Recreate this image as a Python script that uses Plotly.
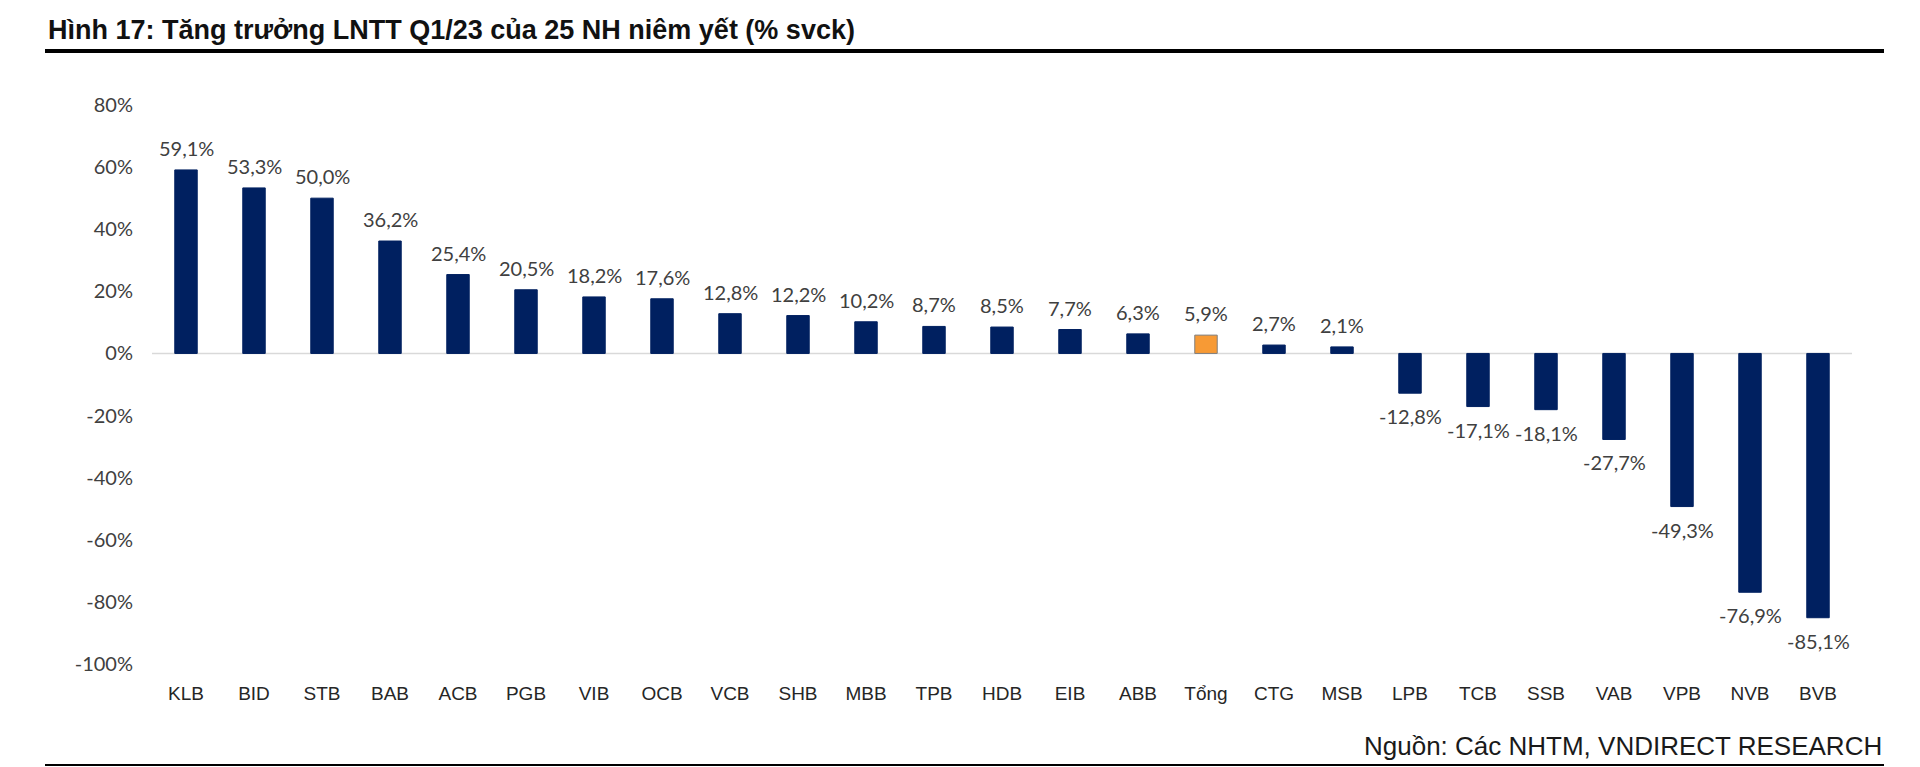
import plotly.graph_objects as go

# ---------------- data ----------------
banks = ["KLB", "BID", "STB", "BAB", "ACB", "PGB", "VIB", "OCB", "VCB", "SHB",
         "MBB", "TPB", "HDB", "EIB", "ABB", "Tổng", "CTG", "MSB", "LPB", "TCB",
         "SSB", "VAB", "VPB", "NVB", "BVB"]
growth = [59.1, 53.3, 50.0, 36.2, 25.4, 20.5, 18.2, 17.6, 12.8, 12.2,
          10.2, 8.7, 8.5, 7.7, 6.3, 5.9, 2.7, 2.1, -12.8, -17.1,
          -18.1, -27.7, -49.3, -76.9, -85.1]
highlight = "Tổng"
y_tick_values = [80, 60, 40, 20, 0, -20, -40, -60, -80, -100]
y_tick_labels = ["80%", "60%", "40%", "20%", "0%", "-20%", "-40%", "-60%", "-80%", "-100%"]

title_text = "Hình 17: Tăng trưởng LNTT Q1/23 của 25 NH niêm yết (% svck)"
source_text = "Nguồn: Các NHTM, VNDIRECT RESEARCH"

# ---------------- layout geometry (pixels) ----------------
W, H = 1920, 767
PL, PR, PT, PB = 152, 1852, 105, 664


def xp(px):
    return (px - PL) / (PR - PL)


def yp(py):
    return (PB - py) / (PB - PT)


NAVY = "#002060"
ORANGE = "#F79A35"

colors = [ORANGE if b == highlight else NAVY for b in banks]
line_colors = ["#7F7F7F" if b == highlight else NAVY for b in banks]

fig = go.Figure()
fig.add_trace(go.Bar(
    x=banks, y=growth, width=0.33,
    marker=dict(color=colors, line=dict(color=line_colors, width=1)),
    hoverinfo="x+y",
))

label_font = dict(family="Lato, Carlito, Calibri, sans-serif", size=20, color="#404040")
for b, v in zip(banks, growth):
    fig.add_annotation(
        x=b, y=v, xref="x", yref="y",
        text=f"{v:.1f}".replace(".", ",") + "%",
        showarrow=False, yshift=22 if v >= 0 else -23,
        font=label_font,
    )

# title
fig.add_annotation(
    xref="paper", yref="paper", x=xp(46), y=yp(30),
    xanchor="left", yanchor="middle", showarrow=False,
    text="<b>" + title_text + "</b>",
    font=dict(family="Liberation Sans, Arial, sans-serif", size=27, color="#111111"),
)
# source
fig.add_annotation(
    xref="paper", yref="paper", x=xp(1884), y=yp(746),
    xanchor="right", yanchor="middle", showarrow=False,
    text=source_text,
    font=dict(family="Liberation Sans, Arial, sans-serif", size=26, color="#1a1a1a"),
)

# rules
fig.add_shape(type="line", xref="paper", yref="paper",
              x0=xp(45), x1=xp(1884), y0=yp(51), y1=yp(51),
              line=dict(color="#000000", width=4))
fig.add_shape(type="line", xref="paper", yref="paper",
              x0=xp(45), x1=xp(1884), y0=yp(765), y1=yp(765),
              line=dict(color="#000000", width=2))
# zero line
fig.add_shape(type="line", xref="paper", yref="y",
              x0=0, x1=1, y0=0, y1=0, layer="below",
              line=dict(color="#D9D9D9", width=1.5))

fig.update_layout(
    width=W, height=H, autosize=False,
    margin=dict(l=PL, r=W - PR, t=PT, b=H - PB, pad=0),
    paper_bgcolor="white", plot_bgcolor="white",
    showlegend=False,
    xaxis=dict(
        type="category", range=[-0.5, len(banks) - 0.5],
        showgrid=False, zeroline=False, showline=False,
        ticks="outside", ticklen=12, tickcolor="rgba(0,0,0,0)",
        tickfont=dict(family="Liberation Sans, Arial, sans-serif", size=19, color="#262626"),
    ),
    yaxis=dict(
        range=[-100, 80], tickvals=y_tick_values, ticktext=y_tick_labels,
        showgrid=False, zeroline=False, showline=False,
        ticks="outside", ticklen=14, tickcolor="rgba(0,0,0,0)",
        tickfont=dict(family="Lato, Carlito, Calibri, sans-serif", size=20, color="#404040"),
    ),
)

fig.write_html(
    "out.html",
    config={"displayModeBar": False},
    post_script="document.body.style.margin='0';document.body.style.overflow='hidden';",
)
